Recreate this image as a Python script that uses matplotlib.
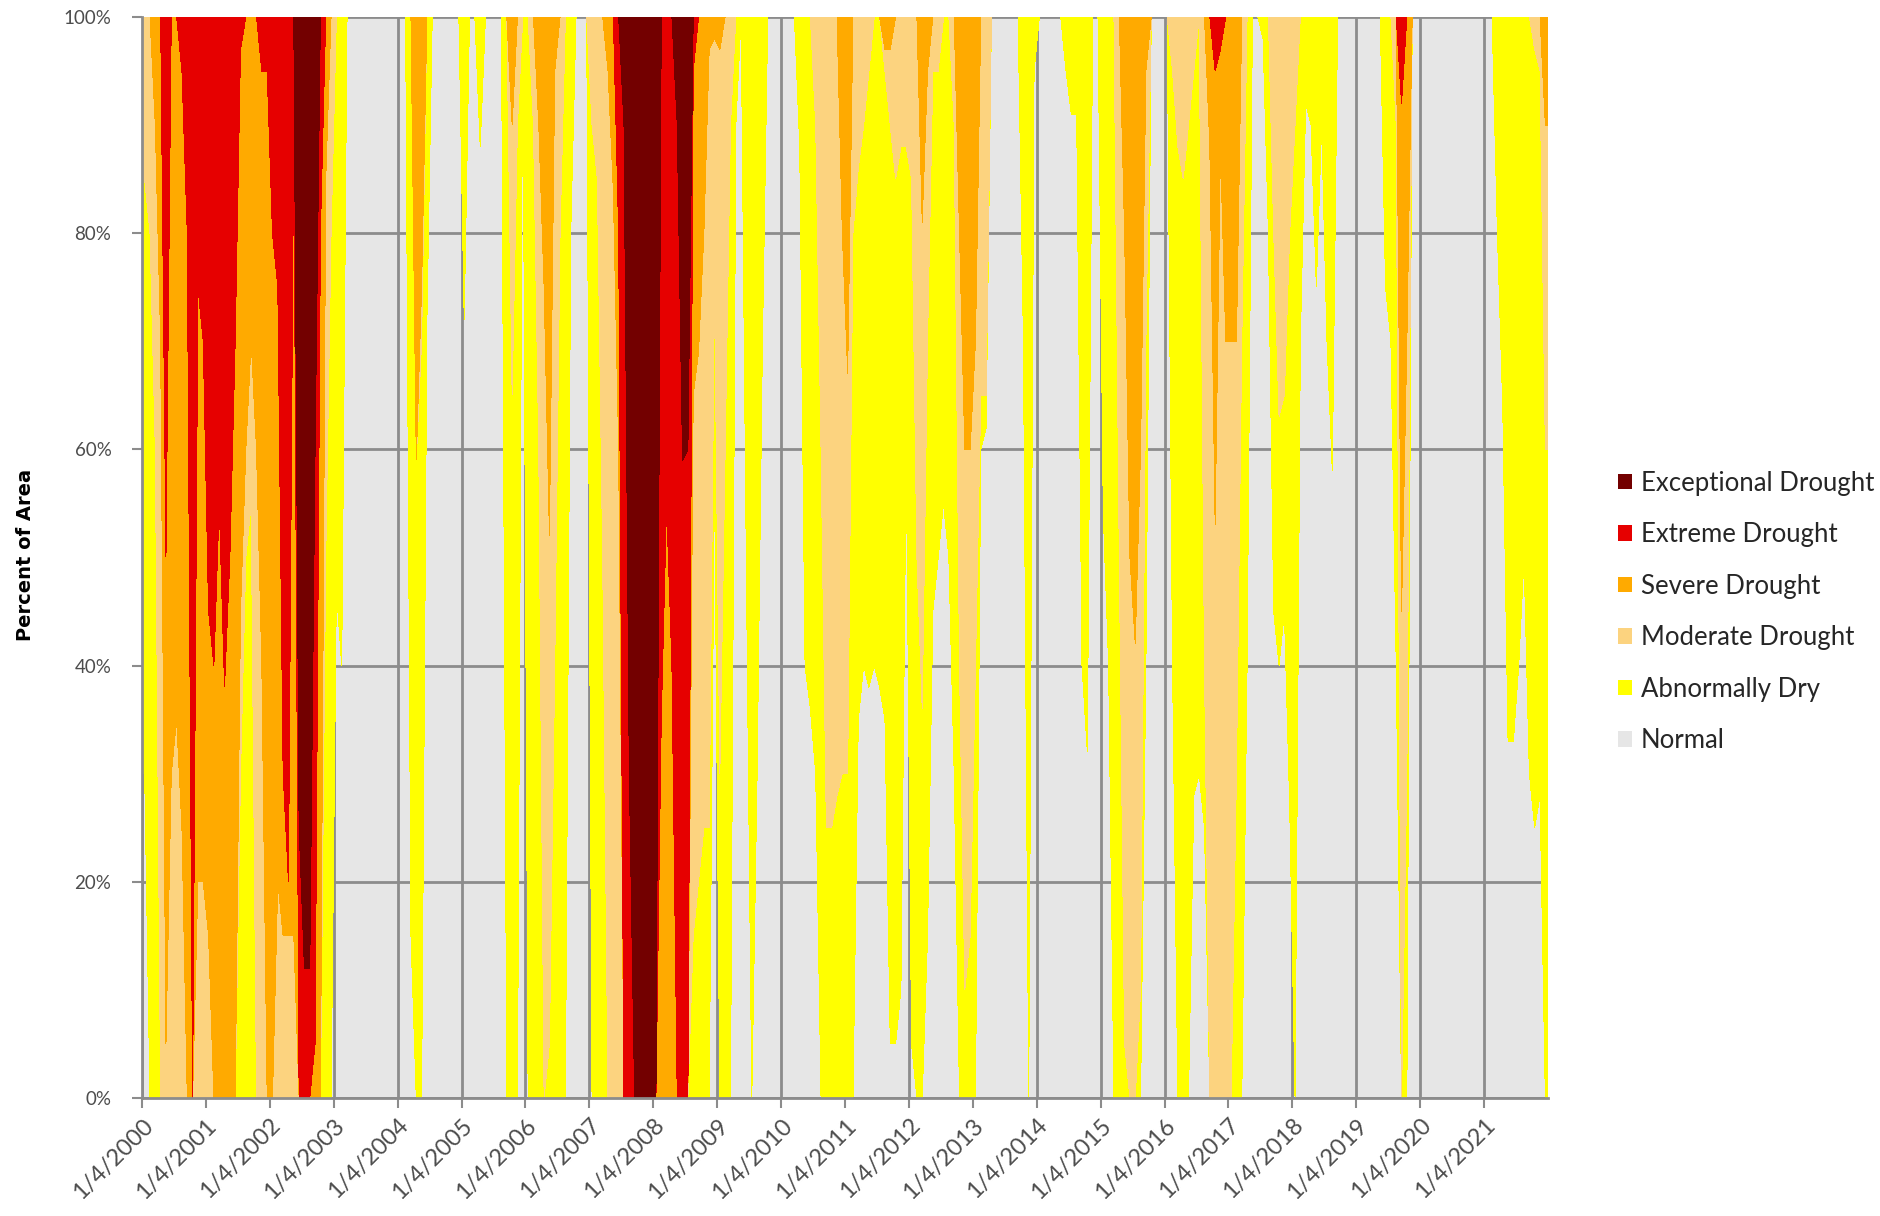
import numpy as np
import matplotlib
matplotlib.use("Agg")
import matplotlib.pyplot as plt
from matplotlib.patches import Patch

# ---------------- data (monthly, Jan 2000 - Dec 2021) ----------------
years = list(range(2000, 2022))
tick_labels = [f"1/4/{y}" for y in years]
categories = ["Exceptional Drought", "Extreme Drought", "Severe Drought",
              "Moderate Drought", "Abnormally Dry", "Normal"]

# cumulative percent of area: D0-D4, D1-D4, D2-D4, D3-D4, D4
d0_plus = [
    70, 100, 100, 100, 100, 100, 100, 100, 100, 100, 100, 100,  # 2000
    100, 100, 100, 100, 100, 100, 100, 100, 100, 100, 100, 100,  # 2001
    100, 100, 100, 100, 100, 100, 100, 100, 100, 100, 100, 100,  # 2002
    53, 60, 0, 0, 0, 0, 0, 0, 0, 0, 0, 0,  # 2003
    0, 0, 85, 100, 100, 28, 0, 0, 0, 0, 0, 0,  # 2004
    28, 0, 0, 12, 0, 0, 0, 0, 100, 100, 100, 0,  # 2005
    100, 100, 100, 100, 100, 100, 100, 100, 20, 0, 0, 0,  # 2006
    100, 100, 100, 100, 100, 100, 100, 100, 100, 100, 100, 100,  # 2007
    100, 100, 100, 100, 100, 100, 100, 100, 100, 100, 100, 42,  # 2008
    100, 100, 100, 10, 0, 52, 100, 70, 30, 0, 0, 0,  # 2009
    0, 0, 0, 12, 60, 64, 70, 100, 100, 100, 100, 100,  # 2010
    100, 100, 65, 60, 62, 60, 62, 65, 95, 95, 90, 40,  # 2011
    95, 100, 100, 85, 55, 50, 45, 50, 70, 100, 100, 100,  # 2012
    100, 40, 38, 0, 0, 0, 0, 0, 0, 30, 100, 5,  # 2013
    0, 0, 0, 0, 0, 5, 9, 9, 60, 68, 0, 0,  # 2014
    46, 60, 100, 100, 100, 100, 100, 100, 60, 0, 0, 0,  # 2015
    0, 60, 100, 100, 100, 72, 70, 75, 100, 100, 100, 100,  # 2016
    100, 100, 100, 60, 0, 0, 2, 20, 55, 60, 55, 73,  # 2017
    100, 30, 8, 10, 25, 10, 30, 42, 0, 0, 0, 0,  # 2018
    0, 0, 0, 0, 0, 25, 30, 60, 100, 100, 0, 0,  # 2019
    0, 0, 0, 0, 0, 0, 0, 0, 0, 0, 0, 0,  # 2020
    0, 0, 20, 36, 67, 67, 60, 50, 70, 75, 72, 100,  # 2021
]
d1_plus = [
    15, 20, 40, 100, 100, 100, 100, 100, 100, 100, 100, 100,  # 2000
    100, 100, 100, 100, 100, 100, 70, 50, 45, 100, 100, 100,  # 2001
    100, 100, 100, 100, 100, 100, 100, 100, 100, 100, 50, 20,  # 2002
    0, 0, 0, 0, 0, 0, 0, 0, 0, 0, 0, 0,  # 2003
    0, 0, 0, 41, 30, 0, 0, 0, 0, 0, 0, 0,  # 2004
    0, 0, 0, 0, 0, 0, 0, 0, 0, 35, 10, 0,  # 2005
    0, 10, 40, 100, 95, 60, 20, 0, 0, 0, 0, 0,  # 2006
    10, 15, 50, 100, 100, 100, 100, 100, 100, 100, 100, 100,  # 2007
    100, 100, 100, 100, 100, 100, 100, 85, 80, 75, 75, 25,  # 2008
    70, 40, 10, 0, 0, 0, 0, 0, 0, 0, 0, 0,  # 2009
    0, 0, 0, 0, 0, 0, 10, 40, 75, 75, 72, 70,  # 2010
    70, 20, 14, 10, 5, 0, 0, 5, 10, 15, 12, 12,  # 2011
    15, 50, 64, 30, 5, 5, 0, 0, 10, 60, 90, 85,  # 2012
    60, 35, 35, 0, 0, 0, 0, 0, 0, 0, 0, 0,  # 2013
    0, 0, 0, 0, 0, 0, 0, 0, 0, 0, 0, 0,  # 2014
    0, 0, 0, 50, 95, 100, 100, 90, 30, 0, 0, 0,  # 2015
    0, 5, 12, 15, 10, 5, 0, 60, 100, 100, 100, 100,  # 2016
    100, 70, 30, 0, 0, 0, 0, 0, 20, 37, 35, 20,  # 2017
    10, 0, 0, 0, 0, 0, 0, 0, 0, 0, 0, 0,  # 2018
    0, 0, 0, 0, 0, 0, 0, 10, 100, 70, 0, 0,  # 2019
    0, 0, 0, 0, 0, 0, 0, 0, 0, 0, 0, 0,  # 2020
    0, 0, 0, 0, 0, 0, 0, 0, 0, 3, 5, 40,  # 2021
]
d2_plus = [
    0, 0, 10, 30, 95, 70, 65, 75, 100, 100, 80, 80,  # 2000
    85, 100, 100, 100, 100, 100, 55, 40, 30, 40, 60, 100,  # 2001
    100, 80, 85, 85, 85, 100, 100, 100, 100, 100, 15, 0,  # 2002
    0, 0, 0, 0, 0, 0, 0, 0, 0, 0, 0, 0,  # 2003
    0, 0, 0, 41, 25, 0, 0, 0, 0, 0, 0, 0,  # 2004
    0, 0, 0, 0, 0, 0, 0, 0, 0, 10, 0, 0,  # 2005
    0, 0, 10, 25, 48, 5, 0, 0, 0, 0, 0, 0,  # 2006
    0, 0, 0, 5, 16, 40, 100, 100, 100, 100, 100, 100,  # 2007
    100, 100, 100, 100, 100, 100, 100, 35, 31, 20, 3, 2,  # 2008
    3, 0, 0, 0, 0, 0, 0, 0, 0, 0, 0, 0,  # 2009
    0, 0, 0, 0, 0, 0, 0, 0, 0, 0, 0, 20,  # 2010
    33, 0, 0, 0, 0, 0, 0, 3, 3, 0, 0, 0,  # 2011
    0, 0, 19, 5, 0, 0, 0, 0, 0, 20, 40, 40,  # 2012
    30, 0, 0, 0, 0, 0, 0, 0, 0, 0, 0, 0,  # 2013
    0, 0, 0, 0, 0, 0, 0, 0, 0, 0, 0, 0,  # 2014
    0, 0, 0, 0, 20, 50, 58, 40, 5, 0, 0, 0,  # 2015
    0, 0, 0, 0, 0, 0, 0, 0, 12, 47, 12, 30,  # 2016
    30, 30, 0, 0, 0, 0, 0, 0, 0, 0, 0, 0,  # 2017
    0, 0, 0, 0, 0, 0, 0, 0, 0, 0, 0, 0,  # 2018
    0, 0, 0, 0, 0, 0, 0, 0, 55, 30, 0, 0,  # 2019
    0, 0, 0, 0, 0, 0, 0, 0, 0, 0, 0, 0,  # 2020
    0, 0, 0, 0, 0, 0, 0, 0, 0, 0, 0, 10,  # 2021
]
d3_plus = [
    0, 0, 0, 0, 50, 0, 0, 5, 20, 100, 25, 30,  # 2000
    55, 60, 45, 62, 50, 30, 3, 0, 0, 0, 5, 5,  # 2001
    20, 25, 70, 80, 10, 100, 100, 100, 95, 20, 0, 0,  # 2002
    0, 0, 0, 0, 0, 0, 0, 0, 0, 0, 0, 0,  # 2003
    0, 0, 0, 0, 0, 0, 0, 0, 0, 0, 0, 0,  # 2004
    0, 0, 0, 0, 0, 0, 0, 0, 0, 0, 0, 0,  # 2005
    0, 0, 0, 0, 0, 0, 0, 0, 0, 0, 0, 0,  # 2006
    0, 0, 0, 0, 0, 20, 100, 100, 100, 100, 100, 100,  # 2007
    100, 65, 45, 60, 100, 100, 100, 5, 0, 0, 0, 0,  # 2008
    0, 0, 0, 0, 0, 0, 0, 0, 0, 0, 0, 0,  # 2009
    0, 0, 0, 0, 0, 0, 0, 0, 0, 0, 0, 0,  # 2010
    0, 0, 0, 0, 0, 0, 0, 0, 0, 0, 0, 0,  # 2011
    0, 0, 0, 0, 0, 0, 0, 0, 0, 0, 0, 0,  # 2012
    0, 0, 0, 0, 0, 0, 0, 0, 0, 0, 0, 0,  # 2013
    0, 0, 0, 0, 0, 0, 0, 0, 0, 0, 0, 0,  # 2014
    0, 0, 0, 0, 0, 0, 0, 0, 0, 0, 0, 0,  # 2015
    0, 0, 0, 0, 0, 0, 0, 0, 0, 5, 3, 0,  # 2016
    0, 0, 0, 0, 0, 0, 0, 0, 0, 0, 0, 0,  # 2017
    0, 0, 0, 0, 0, 0, 0, 0, 0, 0, 0, 0,  # 2018
    0, 0, 0, 0, 0, 0, 0, 0, 8, 0, 0, 0,  # 2019
    0, 0, 0, 0, 0, 0, 0, 0, 0, 0, 0, 0,  # 2020
    0, 0, 0, 0, 0, 0, 0, 0, 0, 0, 0, 0,  # 2021
]
d4_plus = [
    0, 0, 0, 0, 0, 0, 0, 0, 0, 0, 0, 0,  # 2000
    0, 0, 0, 0, 0, 0, 0, 0, 0, 0, 0, 0,  # 2001
    0, 0, 0, 0, 0, 75, 88, 88, 40, 0, 0, 0,  # 2002
    0, 0, 0, 0, 0, 0, 0, 0, 0, 0, 0, 0,  # 2003
    0, 0, 0, 0, 0, 0, 0, 0, 0, 0, 0, 0,  # 2004
    0, 0, 0, 0, 0, 0, 0, 0, 0, 0, 0, 0,  # 2005
    0, 0, 0, 0, 0, 0, 0, 0, 0, 0, 0, 0,  # 2006
    0, 0, 0, 0, 0, 0, 10, 70, 100, 100, 100, 100,  # 2007
    100, 0, 0, 0, 10, 41, 40, 0, 0, 0, 0, 0,  # 2008
    0, 0, 0, 0, 0, 0, 0, 0, 0, 0, 0, 0,  # 2009
    0, 0, 0, 0, 0, 0, 0, 0, 0, 0, 0, 0,  # 2010
    0, 0, 0, 0, 0, 0, 0, 0, 0, 0, 0, 0,  # 2011
    0, 0, 0, 0, 0, 0, 0, 0, 0, 0, 0, 0,  # 2012
    0, 0, 0, 0, 0, 0, 0, 0, 0, 0, 0, 0,  # 2013
    0, 0, 0, 0, 0, 0, 0, 0, 0, 0, 0, 0,  # 2014
    0, 0, 0, 0, 0, 0, 0, 0, 0, 0, 0, 0,  # 2015
    0, 0, 0, 0, 0, 0, 0, 0, 0, 0, 0, 0,  # 2016
    0, 0, 0, 0, 0, 0, 0, 0, 0, 0, 0, 0,  # 2017
    0, 0, 0, 0, 0, 0, 0, 0, 0, 0, 0, 0,  # 2018
    0, 0, 0, 0, 0, 0, 0, 0, 0, 0, 0, 0,  # 2019
    0, 0, 0, 0, 0, 0, 0, 0, 0, 0, 0, 0,  # 2020
    0, 0, 0, 0, 0, 0, 0, 0, 0, 0, 0, 0,  # 2021
]

# ---------------- styling ----------------
col_exc = "#730000"
col_ext = "#E60000"
col_sev = "#FFAA00"
col_mod = "#FCD37F"
col_dry = "#FFFF00"
col_norm = "#E6E6E6"
grid_col = "#8C8C8C"
text_col = "#4D4D4D"
plt.rcParams["font.family"] = ["Lato", "DejaVu Sans"]

# ---------------- prepare series ----------------
n = len(d0_plus)
x = 2000 + (np.arange(n) + 0.5) / 12.0
xe = np.concatenate([[2000.0], x, [2022.0]])


def pad(a):
    a = np.asarray(a, dtype=float)
    return np.concatenate([[a[0]], a, [a[-1]]])


c0, c1, c2, c3, c4 = (pad(v) for v in (d0_plus, d1_plus, d2_plus, d3_plus, d4_plus))
normal = 100 - c0
dry = np.clip(c0 - c1, 0, None)
moderate = np.clip(c1 - c2, 0, None)
severe = np.clip(c2 - c3, 0, None)
extreme = np.clip(c3 - c4, 0, None)
exceptional = c4

# ---------------- figure ----------------
fig = plt.figure(figsize=(18.8, 12.16), dpi=100)
ax = fig.add_axes([142 / 1880, 1 - 1098 / 1216, (1548 - 142) / 1880, (1098 - 17) / 1216])
ax.set_facecolor(col_norm)

ax.stackplot(xe, normal, dry, moderate, severe, extreme, exceptional,
             colors=["none", col_dry, col_mod, col_sev, col_ext, col_exc],
             linewidth=0, antialiased=False)

ax.set_xlim(2000, 2022)
ax.set_ylim(0, 100)
ax.set_axisbelow(True)
ax.grid(True, color=grid_col, linewidth=2)

ax.set_yticks(range(0, 101, 20))
ax.set_yticklabels([f"{v}%" for v in range(0, 101, 20)], fontsize=13.5, color=text_col)
ax.set_xticks(years)
ax.set_xticklabels(tick_labels, rotation=45, ha="right", rotation_mode="anchor",
                   fontsize=17, color=text_col)
ax.tick_params(axis="both", colors=grid_col, labelcolor=text_col, length=7, width=1.5)
ax.tick_params(axis="y", pad=15)
ax.tick_params(axis="x", pad=5)

for s in ("top", "right"):
    ax.spines[s].set_visible(False)
for s in ("left", "bottom"):
    ax.spines[s].set_color(grid_col)
    ax.spines[s].set_linewidth(2)

fig.text(26 / 1880, 1 - 555 / 1216, "Percent of Area", rotation=90, ha="center", va="center",
         fontsize=14, fontweight="bold", family=["Liberation Sans Narrow", "DejaVu Sans"],
         color="#000000")

handles = [Patch(facecolor=c, edgecolor="none") for c in
           (col_exc, col_ext, col_sev, col_mod, col_dry, col_norm)]
fig.legend(handles, categories, loc="upper left",
           bbox_to_anchor=(1605 / 1880, 1 - 458 / 1216), frameon=False,
           fontsize=18.5, handlelength=0.55, handleheight=0.55, handletextpad=0.35,
           labelspacing=1.03, borderpad=0, labelcolor="#262626")

fig.savefig("out.png", dpi=100)
